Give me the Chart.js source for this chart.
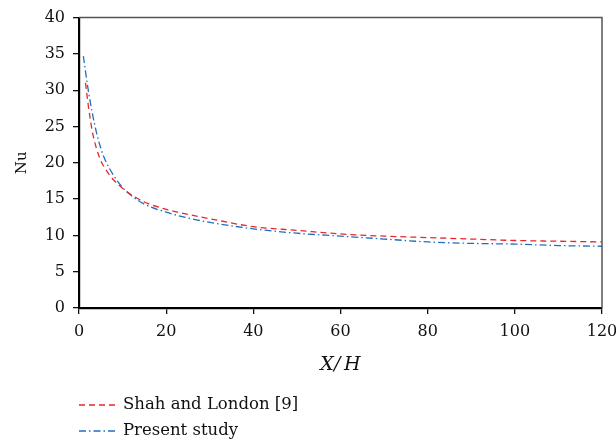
<!DOCTYPE html>
<html>
<head>
<meta charset="utf-8">
<script src="https://cdn.jsdelivr.net/npm/chart.js@4"></script>
<style>
  html, body { margin: 0; padding: 0; background: #fff; }
  #wrap { width: 616px; height: 444px; }
</style>
</head>
<body>
<div id="wrap"><canvas id="c" width="616" height="444"></canvas></div>
<script>
// values
const shahX = [1.5, 2, 3, 4, 5, 6, 8, 10, 12, 15, 20, 25, 30, 40, 50, 60, 70, 80, 90, 100, 110, 120];
const shahNu = [31, 28.5, 24.5, 22, 20.3, 19.2, 17.6, 16.5, 15.6, 14.6, 13.6, 12.9, 12.3, 11.2, 10.7, 10.2, 9.9, 9.7, 9.5, 9.3, 9.2, 9.1];
const presentX = [1, 2, 3, 4, 5, 6, 8, 10, 12, 15, 20, 25, 30, 40, 50, 60, 70, 80, 90, 100, 110, 120];
const presentNu = [34.7, 30.5, 27, 24.2, 22, 20.4, 18.2, 16.6, 15.5, 14.3, 13.2, 12.4, 11.8, 10.9, 10.3, 9.9, 9.5, 9.1, 8.9, 8.8, 8.6, 8.5];
const seriesNames = ['Shah and London [9]', 'Present study'];

const FONT = 'DejaVu Serif';
const RED = '#e8262c';
const BLUE = '#1f6fc0';

function pts(xs, ys) {
  return xs.map((x, i) => ({ x: x, y: ys[i] }));
}

// grey top / right frame lines
const framePlugin = {
  id: 'frame',
  afterDraw(chart) {
    const a = chart.chartArea, ctx = chart.ctx;
    ctx.save();
    ctx.strokeStyle = '#555';
    ctx.lineWidth = 1.5;
    ctx.beginPath();
    ctx.moveTo(a.left, a.top);
    ctx.lineTo(a.right, a.top);
    ctx.lineTo(a.right, a.bottom);
    ctx.stroke();
    ctx.restore();
  }
};

// vertical legend under the axis title
const legendPlugin = {
  id: 'vlegend',
  afterDraw(chart) {
    const ctx = chart.ctx;
    ctx.save();
    ctx.font = '16.5px "' + FONT + '"';
    ctx.textBaseline = 'middle';
    ctx.fillStyle = '#111';
    chart.data.datasets.forEach((ds, i) => {
      const y = 405 + i * 26;
      ctx.strokeStyle = ds.borderColor;
      ctx.lineWidth = 1.3;
      ctx.setLineDash(ds.borderDash);
      ctx.beginPath();
      ctx.moveTo(79, y);
      ctx.lineTo(115, y);
      ctx.stroke();
      ctx.setLineDash([]);
      ctx.fillText(ds.label, 123, y);
    });
    ctx.restore();
  }
};

new Chart(document.getElementById('c'), {
  type: 'scatter',
  data: {
    datasets: [{
      label: seriesNames[0],
      data: pts(shahX, shahNu),
      showLine: true,
      borderColor: RED,
      borderWidth: 1.3,
      borderDash: [6, 4],
      pointRadius: 0,
      tension: 0.4,
      cubicInterpolationMode: 'monotone'
    }, {
      label: seriesNames[1],
      data: pts(presentX, presentNu),
      showLine: true,
      borderColor: BLUE,
      borderWidth: 1.3,
      borderDash: [7, 3, 1.5, 3],
      pointRadius: 0,
      tension: 0.4,
      cubicInterpolationMode: 'monotone'
    }]
  },
  options: {
    responsive: false,
    animation: false,
    layout: { padding: { left: 0, top: 16, right: 0, bottom: 64 } },
    plugins: {
      legend: { display: false },
      tooltip: { enabled: false }
    },
    scales: {
      x: {
        type: 'linear',
        min: 0,
        max: 120,
        afterFit: s => { s.height = 72; s.paddingLeft = 0; s.paddingRight = 14; },
        ticks: {
          stepSize: 20,
          color: '#111',
          font: { family: FONT, size: 16 },
          padding: 8
        },
        grid: {
          drawOnChartArea: false,
          drawTicks: true,
          tickLength: 6,
          color: '#111',
          lineWidth: 1.3
        },
        border: { color: '#000', width: 2.2 },
        title: {
          display: true,
          text: 'X/\u2009H',
          color: '#111',
          font: { family: FONT, size: 19, style: 'italic' },
          padding: { top: 4, bottom: 4 }
        }
      },
      y: {
        min: 0,
        max: 40,
        afterFit: s => { s.width = 79; },
        ticks: {
          stepSize: 5,
          color: '#111',
          font: { family: FONT, size: 16 },
          padding: 8
        },
        grid: {
          drawOnChartArea: false,
          drawTicks: true,
          tickLength: 6,
          color: '#111',
          lineWidth: 1.3
        },
        border: { color: '#000', width: 2.2 },
        title: {
          display: true,
          text: 'Nu',
          color: '#111',
          font: { family: FONT, size: 15 },
          padding: { top: 13, bottom: 4 }
        }
      }
    }
  },
  plugins: [framePlugin, legendPlugin]
});
</script>
</body>
</html>
